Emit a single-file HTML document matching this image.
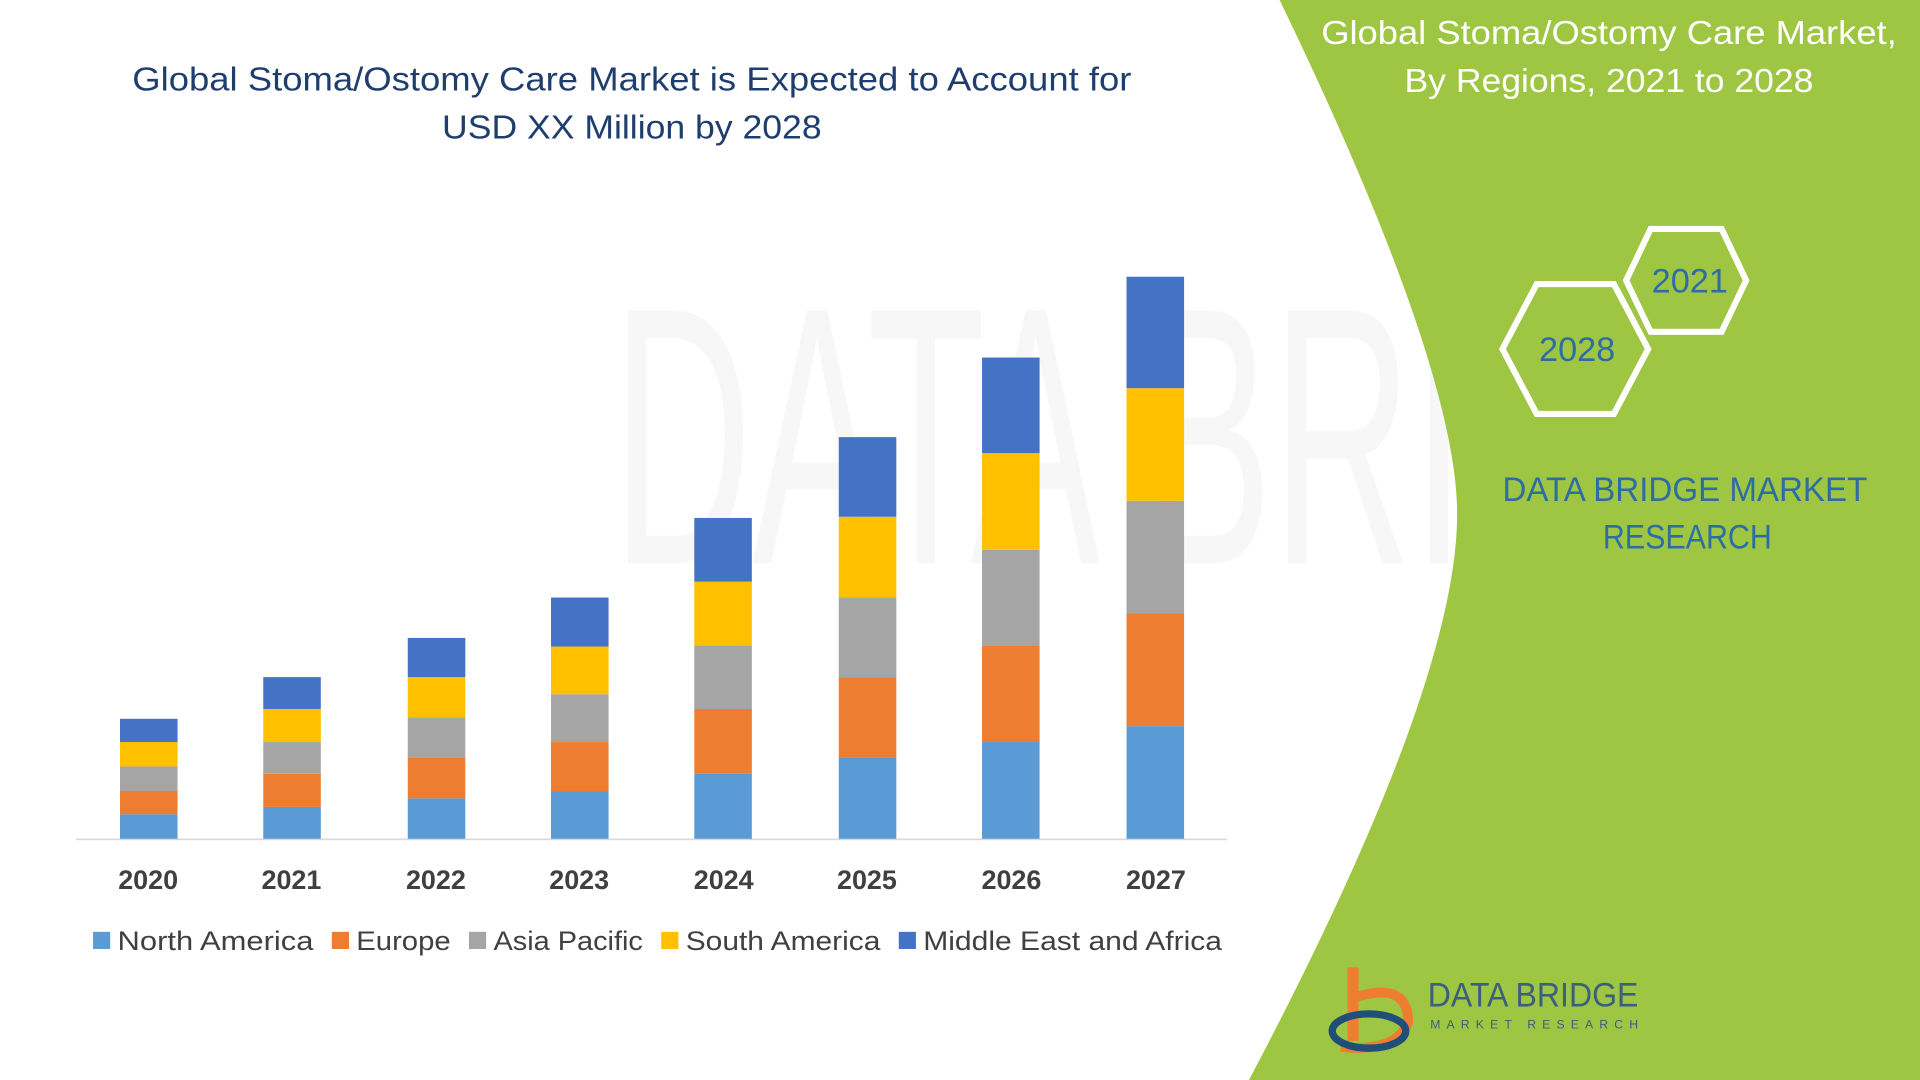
<!DOCTYPE html>
<html><head><meta charset="utf-8"><style>html,body{margin:0;padding:0;background:#fff;overflow:hidden}svg{display:block}</style></head>
<body>
<svg width="1920" height="1080" viewBox="0 0 1568 882" preserveAspectRatio="none" xmlns="http://www.w3.org/2000/svg" font-family="Liberation Sans, sans-serif">
<rect width="1568" height="882" fill="#fff"/>
<text x="500" y="460" font-size="300" fill="#f7f7f7" textLength="1040" lengthAdjust="spacingAndGlyphs">DATA BRIDGE</text>
<path d="M1045,0 L1568,0 L1568,882 L1020,882 Q1190,560 1190,420 Q1190,300 1045,0 Z" fill="#9ec643"/>
<text x="1314" y="36" font-size="27" fill="#fff" text-anchor="middle" textLength="470" lengthAdjust="spacingAndGlyphs">Global Stoma/Ostomy Care Market,</text>
<text x="1314" y="75" font-size="27" fill="#fff" text-anchor="middle" textLength="334" lengthAdjust="spacingAndGlyphs">By Regions, 2021 to 2028</text>
<polygon points="1348,187 1406,187 1426,229 1406,271 1348,271 1328,229" fill="none" stroke="#fff" stroke-width="5"/>
<polygon points="1255,232 1318,232 1346,285 1318,338 1255,338 1227,285" fill="none" stroke="#fff" stroke-width="5"/>
<text x="1380" y="239" font-size="28" fill="#2e6da4" text-anchor="middle">2021</text>
<text x="1288" y="295" font-size="28" fill="#2e6da4" text-anchor="middle">2028</text>
<text x="1376" y="409" font-size="28" fill="#2e6da4" text-anchor="middle" textLength="298" lengthAdjust="spacingAndGlyphs">DATA BRIDGE MARKET</text>
<text x="1378" y="448" font-size="28" fill="#2e6da4" text-anchor="middle" textLength="138" lengthAdjust="spacingAndGlyphs">RESEARCH</text>
<path d="M1105,790 L1105,850" stroke="#ee7d31" stroke-width="9"/>
<path d="M1105,815 Q1150,800 1150,835 Q1140,860 1095,855" fill="none" stroke="#ee7d31" stroke-width="8"/>
<ellipse cx="1118" cy="842" rx="30" ry="14" fill="none" stroke="#1f4e79" stroke-width="6"/>
<text x="1166" y="822" font-size="28" fill="#3b5f7c" textLength="172" lengthAdjust="spacingAndGlyphs">DATA BRIDGE</text>
<text x="1168" y="840" font-size="10" fill="#3b5f7c" letter-spacing="5">MARKET RESEARCH</text>
<text x="516" y="74" font-size="27" fill="#1f3e6e" text-anchor="middle" textLength="816" lengthAdjust="spacingAndGlyphs">Global Stoma/Ostomy Care Market is Expected to Account for</text>
<text x="516" y="113" font-size="27" fill="#1f3e6e" text-anchor="middle" textLength="310" lengthAdjust="spacingAndGlyphs">USD XX Million by 2028</text>
<line x1="62" y1="685.5" x2="1002" y2="685.5" stroke="#d9d9d9" stroke-width="1.5"/>
<g font-size="22" font-weight="bold" fill="#404040" text-anchor="middle">
<text x="121" y="726">2020</text><text x="238" y="726">2021</text><text x="356" y="726">2022</text><text x="473" y="726">2023</text><text x="591" y="726">2024</text><text x="708" y="726">2025</text><text x="826" y="726">2026</text><text x="944" y="726">2027</text>
</g>
<g font-size="22" fill="#404040">
<rect x="76" y="761" width="14" height="14" fill="#5b9bd5"/><text x="96" y="776" textLength="160" lengthAdjust="spacingAndGlyphs">North America</text>
<rect x="271" y="761" width="14" height="14" fill="#ed7d31"/><text x="291" y="776" textLength="77" lengthAdjust="spacingAndGlyphs">Europe</text>
<rect x="383" y="761" width="14" height="14" fill="#a5a5a5"/><text x="403" y="776" textLength="122" lengthAdjust="spacingAndGlyphs">Asia Pacific</text>
<rect x="540" y="761" width="14" height="14" fill="#ffc000"/><text x="560" y="776" textLength="159" lengthAdjust="spacingAndGlyphs">South America</text>
<rect x="734" y="761" width="14" height="14" fill="#4472c4"/><text x="754" y="776" textLength="244" lengthAdjust="spacingAndGlyphs">Middle East and Africa</text>
</g>
<g>
<rect x="98" y="665" width="47" height="20" fill="#5b9bd5"/><rect x="98" y="646" width="47" height="19" fill="#ed7d31"/><rect x="98" y="626" width="47" height="20" fill="#a5a5a5"/><rect x="98" y="606" width="47" height="20" fill="#ffc000"/><rect x="98" y="587" width="47" height="19" fill="#4472c4"/>
<rect x="215" y="659" width="47" height="26" fill="#5b9bd5"/><rect x="215" y="632" width="47" height="27" fill="#ed7d31"/><rect x="215" y="606" width="47" height="26" fill="#a5a5a5"/><rect x="215" y="579" width="47" height="27" fill="#ffc000"/><rect x="215" y="553" width="47" height="26" fill="#4472c4"/>
<rect x="333" y="652" width="47" height="33" fill="#5b9bd5"/><rect x="333" y="619" width="47" height="33" fill="#ed7d31"/><rect x="333" y="586" width="47" height="33" fill="#a5a5a5"/><rect x="333" y="553" width="47" height="33" fill="#ffc000"/><rect x="333" y="521" width="47" height="32" fill="#4472c4"/>
<rect x="450" y="646" width="47" height="39" fill="#5b9bd5"/><rect x="450" y="606" width="47" height="40" fill="#ed7d31"/><rect x="450" y="567" width="47" height="39" fill="#a5a5a5"/><rect x="450" y="528" width="47" height="39" fill="#ffc000"/><rect x="450" y="488" width="47" height="40" fill="#4472c4"/>
<rect x="567" y="632" width="47" height="53" fill="#5b9bd5"/><rect x="567" y="579" width="47" height="53" fill="#ed7d31"/><rect x="567" y="527" width="47" height="52" fill="#a5a5a5"/><rect x="567" y="475" width="47" height="52" fill="#ffc000"/><rect x="567" y="423" width="47" height="52" fill="#4472c4"/>
<rect x="685" y="619" width="47" height="66" fill="#5b9bd5"/><rect x="685" y="553" width="47" height="66" fill="#ed7d31"/><rect x="685" y="488" width="47" height="65" fill="#a5a5a5"/><rect x="685" y="422" width="47" height="66" fill="#ffc000"/><rect x="685" y="357" width="47" height="65" fill="#4472c4"/>
<rect x="802" y="606" width="47" height="79" fill="#5b9bd5"/><rect x="802" y="527" width="47" height="79" fill="#ed7d31"/><rect x="802" y="449" width="47" height="78" fill="#a5a5a5"/><rect x="802" y="370" width="47" height="79" fill="#ffc000"/><rect x="802" y="292" width="47" height="78" fill="#4472c4"/>
<rect x="920" y="593" width="47" height="92" fill="#5b9bd5"/><rect x="920" y="501" width="47" height="92" fill="#ed7d31"/><rect x="920" y="409" width="47" height="92" fill="#a5a5a5"/><rect x="920" y="317" width="47" height="92" fill="#ffc000"/><rect x="920" y="226" width="47" height="91" fill="#4472c4"/>
</g>
</svg>
</body></html>
